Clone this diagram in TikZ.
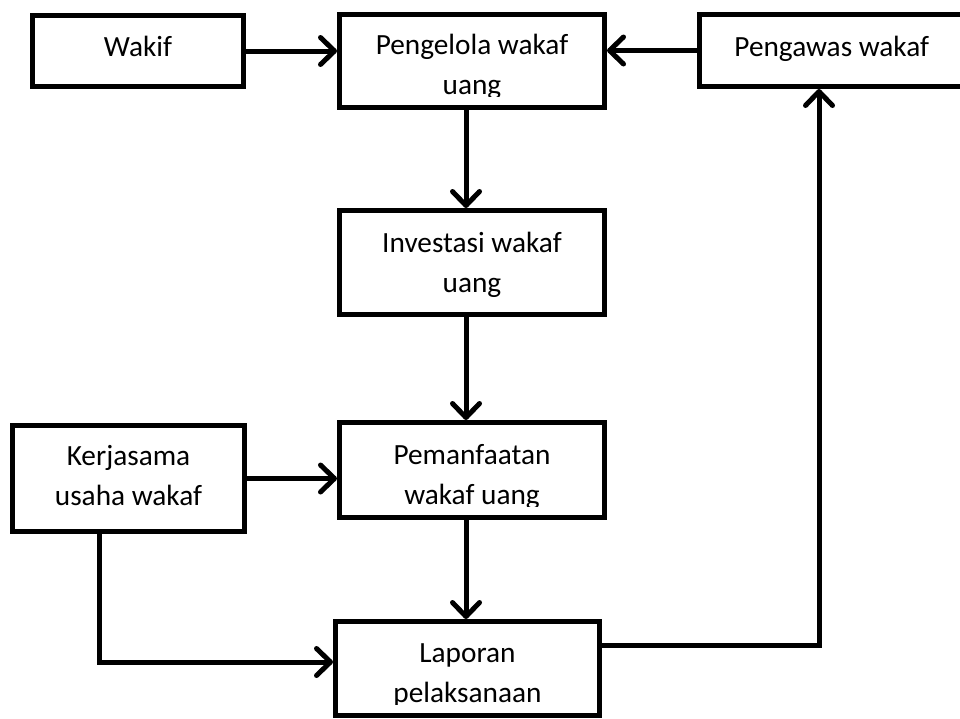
\documentclass[tikz,border=0pt]{standalone}
\usepackage{fontspec}
\setmainfont{Carlito}
\usetikzlibrary{arrows.meta}

\begin{document}
\begin{tikzpicture}[x=1pt, y=-1pt,
    box/.style={draw, line width=5pt, inner sep=0pt, align=center, font=\fontsize{29.3}{40}\selectfont},
    drop/.style={text height=#1, text depth=0pt},
    flow/.style={line width=5pt, -{Straight Barb[length=14pt, width=27pt, round]}}]
    \useasboundingbox (0,0) rectangle (960,718);
    % boxes
    \node[box, minimum width=211pt, minimum height=71pt, drop=11pt] (wakif) at (138,51) {Wakif};
    \node[box, minimum width=265pt, minimum height=93pt, drop=66pt] (pengelola) at (472,61) {Pengelola wakaf\\uang};
    \node[box, minimum width=264.5pt, minimum height=72pt, drop=12pt] (pengawas) at (831.75,50.5) {Pengawas wakaf};
    \node[box, minimum width=265pt, minimum height=104pt, drop=59pt] (investasi) at (472,262.5) {Investasi wakaf\\uang};
    \node[box, minimum width=232pt, minimum height=106pt, drop=53pt] (kerjasama) at (128.5,478.5) {Kerjasama\\usaha wakaf};
    \node[box, minimum width=265pt, minimum height=95pt, drop=68pt] (pemanfaatan) at (472,470) {Pemanfaatan\\wakaf uang};
    \node[box, minimum width=264pt, minimum height=94pt, drop=67pt] (laporan) at (467.5,668.5) {Laporan\\pelaksanaan};
    % text cut off at the bottom
    \foreach \b in {pengelola, pemanfaatan, laporan}
        \fill[white] ([xshift=5pt, yshift=5pt]\b.south west) rectangle ([xshift=-5pt, yshift=13pt]\b.south east);
    % arrows
    \draw[flow] (wakif.east) -- (wakif.east -| pengelola.west);
    \draw[flow] (pengawas.west) -- (pengawas.west -| pengelola.east);
    \draw[flow] ([xshift=-6pt]pengelola.south) -- ([xshift=-6pt]investasi.north);
    \draw[flow] ([xshift=-6pt]investasi.south) -- ([xshift=-6pt]pemanfaatan.north);
    \draw[flow] (kerjasama.east) -- (kerjasama.east -| pemanfaatan.west);
    \draw[flow] ([xshift=-6pt]pemanfaatan.south) -- ([xshift=-1.5pt]laporan.north);
    \draw[flow] ([xshift=-29.5pt]kerjasama.south) |- ([yshift=6.5pt]laporan.west);
    \draw[flow] ([yshift=23.5pt]laporan.east) -| ([xshift=-12.75pt]pengawas.south);
\end{tikzpicture}
\end{document}
